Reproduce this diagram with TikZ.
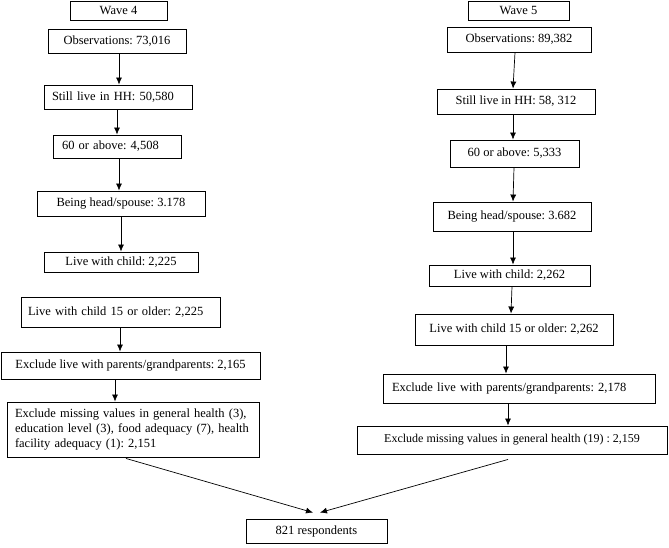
\documentclass[tikz,border=0pt]{standalone}
\usepackage{fontspec}
\setmainfont{Liberation Serif}
\usetikzlibrary{arrows.meta}
\frenchspacing
\begin{document}
\begin{tikzpicture}[x=1pt,y=-1pt,
  box/.style={draw, line width=0.9pt, inner sep=0pt, align=center, font=\fontsize{12.5}{15}\selectfont},
  lbox/.style={box, align=left},
  arr/.style={-{Latex[length=7pt,width=6pt]}, line width=0.7pt}]
\useasboundingbox (0,0) rectangle (669,547);
% left column
\node[box, minimum width=97pt, minimum height=19pt] (w4) at (118.5,10.5) {Wave 4};
\node[box, minimum width=138pt, minimum height=24pt] (o4) at (117,41) {Observations: 73,016};
\node[lbox, text width=132pt, inner xsep=8pt, minimum height=24pt] (s4) at (118,97) {Still live in HH: 50,580};
\node[lbox, text width=110pt, inner xsep=9pt, minimum height=23pt] (a4) at (117,146.5) {60 or above: 4,508};
\node[box, minimum width=168pt, minimum height=25pt] (h4) at (121,203.5) {Being head/spouse: 3.178};
\node[box, minimum width=154pt, minimum height=20pt] (l4) at (121,262) {Live with child: 2,225};
\node[lbox, text width=185pt, inner xsep=7pt, minimum height=30pt] (c4) at (120.5,312) {Live with child 15 or older: 2,225};
\node[box, minimum width=259pt, minimum height=27pt] (e4) at (130.5,365.5) {Exclude live with parents/grandparents: 2,165};
\node[lbox, text width=236pt, inner xsep=8pt, minimum height=55pt] (m4) at (133,429.5) {Exclude missing values in general health (3),\\education level (3), food adequacy (7), health\\facility adequacy (1): 2,151};
% right column
\node[box, minimum width=101pt, minimum height=19pt] (w5) at (518.5,10.5) {Wave 5};
\node[box, minimum width=144pt, minimum height=25pt] (o5) at (519,39.5) {Observations: 89,382};
\node[box, minimum width=158pt, minimum height=25pt] (s5) at (516,101.5) {Still live in HH: 58, 312};
\node[box, minimum width=129pt, minimum height=27pt] (a5) at (514.5,153.5) {60 or above: 5,333};
\node[box, minimum width=158pt, minimum height=29pt] (h5) at (512,216.5) {Being head/spouse: 3.682};
\node[box, minimum width=161pt, minimum height=21pt] (l5) at (509.5,275.5) {Live with child: 2,262};
\node[box, minimum width=198pt, minimum height=31pt] (c5) at (514,329.5) {Live with child 15 or older: 2,262};
\node[lbox, text width=254pt, inner xsep=9pt, minimum height=29pt] (e5) at (519,388.5) {Exclude live with parents/grandparents: 2,178};
\node[box, minimum width=310pt, minimum height=28pt, font=\fontsize{12}{14}\selectfont] (m5) at (512,440) {Exclude missing values in general health (19) : 2,159};
% result
\node[box, minimum width=141pt, minimum height=24pt] (r) at (316.5,531) {821 respondents};
% left arrows
\draw[arr] ([xshift=2pt]o4.south) -- ([xshift=1pt]s4.north);
\draw[arr] ([xshift=-1pt]s4.south) -- (a4.north);
\draw[arr] ([xshift=2pt]a4.south) -- ([xshift=-2pt]h4.north);
\draw[arr] (h4.south) -- (l4.north);
\draw[arr] ([xshift=-0.5pt]c4.south) -- ([xshift=-10.5pt]e4.north);
\draw[arr] ([xshift=-15.5pt]e4.south) -- ([xshift=-18pt]m4.north);
% right arrows
\draw[arr] ([xshift=-4pt]o5.south) -- ([xshift=-3pt]s5.north);
\draw[arr] ([xshift=-3pt]s5.south) -- ([xshift=-1.5pt]a5.north);
\draw[arr] ([xshift=-0.5pt]a5.south) -- ([xshift=1pt]h5.north);
\draw[arr] ([xshift=1pt]h5.south) -- ([xshift=3.5pt]l5.north);
\draw[arr] ([xshift=2.5pt]l5.south) -- ([xshift=-3pt]c5.north);
\draw[arr] ([xshift=-8pt]c5.south) -- ([xshift=-13pt]e5.north);
\draw[arr] ([xshift=-11pt]e5.south) -- ([xshift=-4pt]m5.north);
% to result
\draw[arr] ([xshift=-7pt,yshift=-1pt]m4.south) -- ([xshift=-3.5pt,yshift=6pt]r.north);
\draw[arr] ([xshift=-4pt,yshift=-5pt]m5.south) -- ([xshift=3.5pt,yshift=6pt]r.north);
\end{tikzpicture}
\end{document}
